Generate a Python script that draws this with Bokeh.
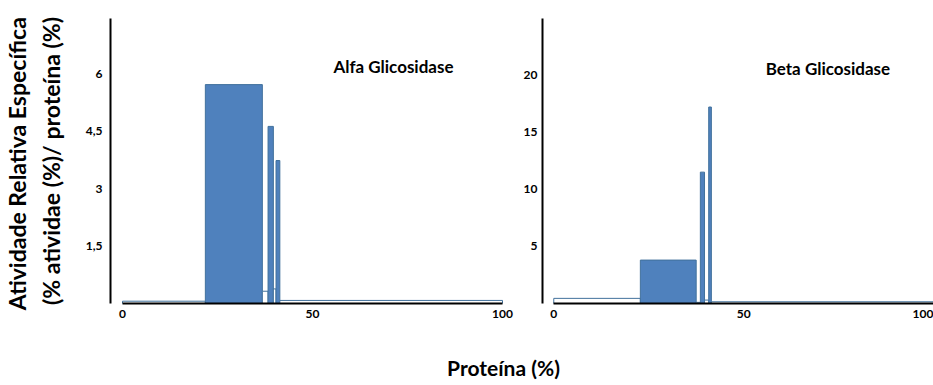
import numpy as np
from bokeh.plotting import figure
from bokeh.models import Range1d, FixedTicker, Label
from bokeh.layouts import row, column
from bokeh.embed import file_html
from bokeh.resources import INLINE

# ---- data ----
# protein share of each fraction (%), and relative specific activity
alfa_protein = [21.8, 15.0, 1.5, 1.4, 0.7, 1.0, 58.6]
alfa_rsa = [0.06, 5.71, 0.32, 4.62, 0.38, 3.73, 0.08]
beta_protein = [22.8, 14.7, 1.1, 1.1, 1.1, 0.7, 58.5]
beta_rsa = [0.45, 3.8, 0.1, 11.5, 0.3, 17.2, 0.15]
fraction_fill = ["white", "#4F81BD", "white", "#4F81BD", "white", "#4F81BD", "white"]

x_ticks = [0, 50, 100]
alfa_ticks = [1.5, 3, 4.5, 6]
alfa_tick_labels = ["1,5", "3", "4,5", "6"]
beta_ticks = [5, 10, 15, 20]
beta_tick_labels = ["5", "10", "15", "20"]
titles = ["Alfa Glicosidase", "Beta Glicosidase"]
y_title = "Atividade  Relativa Específica\n(% atividae (%)/ proteína (%)"
x_title = "Proteína (%)"

FONT = "Lato"


def panel(widths, rsa, xr, yr, yticks, ylabels, title, tx, ty,
          fw, border_left, border_right, ylabel=None, ystand=9):
    edges = np.concatenate([[0.0], np.cumsum(widths)])
    p = figure(frame_width=fw, frame_height=285,
               x_range=Range1d(*xr), y_range=Range1d(*yr),
               toolbar_location=None, output_backend="svg",
               min_border_left=border_left, min_border_right=border_right,
               min_border_top=18, min_border_bottom=30)
    p.quad(left=edges[:-1], right=edges[1:], bottom=0, top=rsa,
           fill_color=fraction_fill, line_color="#41719C", line_width=1)
    p.xgrid.visible = False
    p.ygrid.visible = False
    p.outline_line_color = None

    xa = p.xaxis[0]
    xa.ticker = FixedTicker(ticks=x_ticks)
    xa.bounds = (0, 100)
    xa.axis_line_width = 2
    xa.axis_line_color = "black"
    xa.major_tick_out = 0
    xa.major_tick_in = 0
    xa.minor_tick_out = 0
    xa.minor_tick_in = 0
    xa.major_label_standoff = 6
    xa.major_label_text_font = FONT
    xa.major_label_text_font_style = "bold"
    xa.major_label_text_font_size = "12px"
    xa.major_label_text_color = "black"

    ya = p.yaxis[0]
    ya.ticker = FixedTicker(ticks=yticks)
    ya.major_label_overrides = {t: l for t, l in zip(yticks, ylabels)}
    ya.axis_line_width = 2
    ya.axis_line_color = "black"
    ya.major_tick_out = 0
    ya.major_tick_in = 0
    ya.minor_tick_out = 0
    ya.minor_tick_in = 0
    ya.major_label_standoff = ystand
    ya.major_label_text_font = FONT
    ya.major_label_text_font_style = "bold"
    ya.major_label_text_font_size = "12px"
    ya.major_label_text_color = "black"
    if ylabel:
        ya.axis_label = ylabel
        ya.axis_label_text_font = FONT
        ya.axis_label_text_font_style = "bold"
        ya.axis_label_text_font_size = "23px"
        ya.axis_label_text_line_height = 1.2
        ya.axis_label_standoff = 18
        ya.axis_label_text_color = "black"

    p.add_layout(Label(x=tx, y=ty, text=title, text_align="center",
                       text_baseline="middle", text_font=FONT,
                       text_font_style="bold", text_font_size="17px",
                       text_color="black"))
    return p


p1 = panel(alfa_protein, alfa_rsa, (-3.16, 100.26), (0, 7.435),
           alfa_ticks, alfa_tick_labels, titles[0], 71.3, 6.18,
           393, 110, 12, ylabel=y_title, ystand=8)
p2 = panel(beta_protein, beta_rsa, (-2.97, 100.0), (0, 24.95),
           beta_ticks, beta_tick_labels, titles[1], 72.2, 20.55,
           391, 27, 0, ystand=5)

p3 = figure(width=933, height=51, x_range=Range1d(0, 933), y_range=Range1d(0, 51),
            toolbar_location=None, output_backend="svg",
            x_axis_location=None, y_axis_location=None,
            min_border_left=0, min_border_right=0, min_border_top=0, min_border_bottom=0)
p3.xgrid.visible = False
p3.ygrid.visible = False
p3.outline_line_color = None
p3.add_layout(Label(x=503, y=17, text=x_title, text_align="center",
                    text_baseline="middle", text_font=FONT,
                    text_font_style="bold", text_font_size="21px",
                    text_color="black"))

layout = column(row(p1, p2), p3)
open("out.html", "w").write(file_html(layout, INLINE))
